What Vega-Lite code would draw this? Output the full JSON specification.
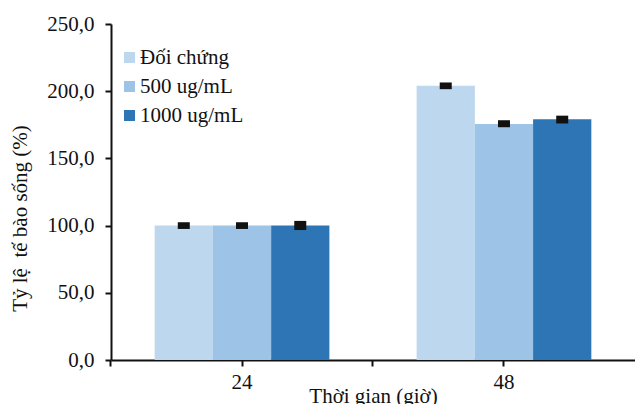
{
  "$schema": "https://vega.github.io/schema/vega-lite/v6.json",
  "width": 524,
  "height": 336,
  "autosize": {"type": "none"},
  "padding": {"left": 111, "top": 24, "right": 0, "bottom": 44},
  "background": "white",
  "config": {
    "locale": {"number": {"decimal": ",", "thousands": ".", "grouping": [3], "currency": ["", ""]}},
    "view": {"stroke": null},
    "font": "Liberation Serif"
  },
  "data": {
    "values": [
      {"time": "24", "group": "Đối chứng", "value": 100, "lo": 97.5, "hi": 102.5},
      {"time": "24", "group": "500 ug/mL", "value": 100, "lo": 97.5, "hi": 102.5},
      {"time": "24", "group": "1000 ug/mL", "value": 100, "lo": 96.7, "hi": 103.5},
      {"time": "48", "group": "Đối chứng", "value": 204, "lo": 201.5, "hi": 206.5},
      {"time": "48", "group": "500 ug/mL", "value": 175.6, "lo": 173.2, "hi": 178.4},
      {"time": "48", "group": "1000 ug/mL", "value": 179.2, "lo": 176, "hi": 181.8}
    ]
  },
  "encoding": {
    "x": {
      "field": "time", "type": "nominal", "sort": ["24", "48"],
      "scale": {"paddingInner": 0.333, "paddingOuter": 0.1667}
    },
    "xOffset": {
      "field": "group", "type": "nominal", "sort": ["Đối chứng", "500 ug/mL", "1000 ug/mL"],
      "scale": {"paddingInner": 0, "paddingOuter": 0}
    }
  },
  "layer": [
    {
      "mark": {"type": "bar"},
      "encoding": {
        "x": {
          "field": "time", "type": "nominal", "sort": ["24", "48"],
          "axis": {
            "title": "Thời gian (giờ)", "titleFontSize": 21, "titleFontWeight": "normal", "titleColor": "#111",
            "titlePadding": -7,
            "labelFontSize": 21, "labelColor": "#111", "labelAngle": 0, "labelPadding": 5,
            "tickSize": 6, "tickWidth": 2, "tickColor": "#111",
            "domainColor": "#111", "domainWidth": 2, "grid": false
          }
        },
        "y": {
          "field": "value", "type": "quantitative",
          "scale": {"domain": [0, 250], "nice": false},
          "axis": {
            "title": "Tỷ lệ\u00a0 tế bào sống (%)", "titleFontSize": 21, "titleFontWeight": "normal", "titleColor": "#111",
            "titlePadding": 16, "titleY": 194,
            "values": [0, 50, 100, 150, 200, 250], "format": ".1f",
            "labelFontSize": 21, "labelColor": "#111", "labelPadding": 11,
            "tickSize": 6, "tickWidth": 2, "tickColor": "#111",
            "domainColor": "#111", "domainWidth": 2, "grid": false
          }
        },
        "color": {
          "field": "group", "type": "nominal", "sort": ["Đối chứng", "500 ug/mL", "1000 ug/mL"],
          "scale": {"range": ["#BDD7EE", "#9DC3E6", "#2E75B6"]},
          "legend": {
            "title": null, "orient": "none", "legendX": 8, "legendY": 23,
            "symbolType": "square", "symbolSize": 121, "symbolStrokeWidth": 0,
            "labelFontSize": 21, "labelColor": "#111", "rowPadding": 7, "labelOffset": 0
          }
        }
      }
    },
    {
      "mark": {"type": "rule", "strokeWidth": 12, "color": "#111"},
      "encoding": {
        "x": {
          "field": "time", "type": "nominal", "sort": ["24", "48"],
          "axis": {"orient": "bottom", "title": null, "labels": false, "domain": false, "grid": false,
                   "bandPosition": -0.25,
                   "tickSize": 6, "tickWidth": 2, "tickColor": "#111"}
        },
        "y": {"field": "lo", "type": "quantitative", "scale": {"domain": [0, 250], "nice": false}},
        "y2": {"field": "hi"}
      }
    }
  ],
  "resolve": {"axis": {"x": "independent"}}
}
